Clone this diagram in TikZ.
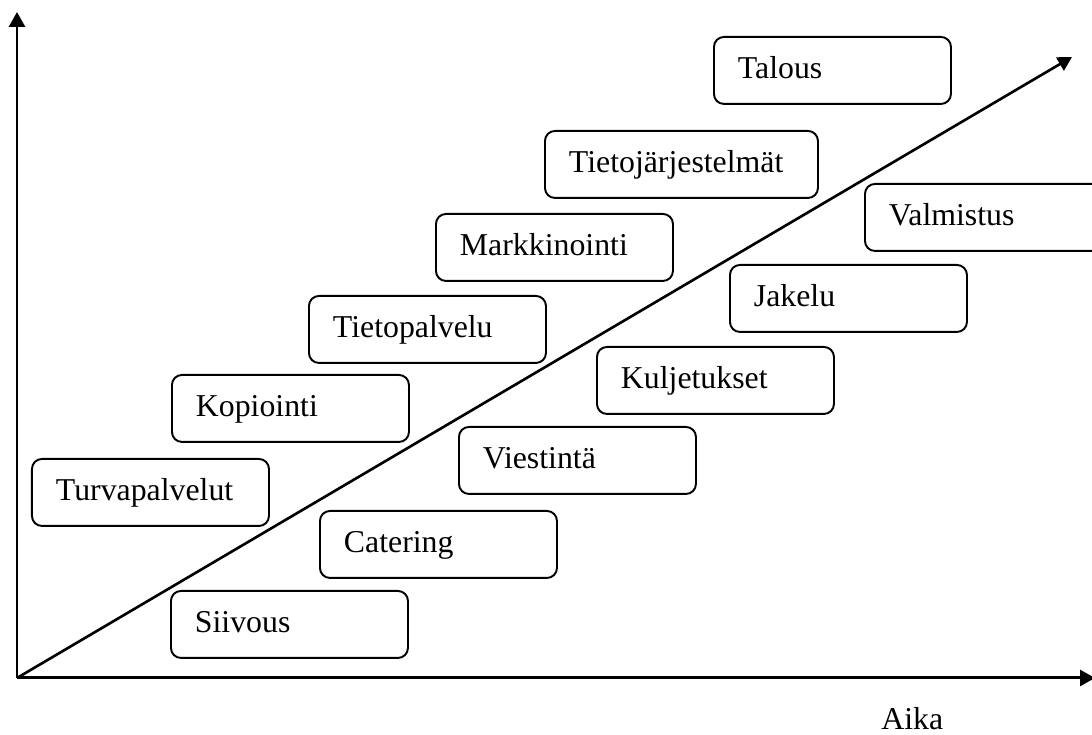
\documentclass[tikz,border=0pt]{standalone}
\usepackage{fontspec}
\setmainfont{Liberation Serif}
\usetikzlibrary{arrows.meta}
\tikzset{
	lohko/.style = {draw, line width = 1.1pt, rounded corners = 0.2cm, anchor = north west,
		minimum height = 1.34cm, inner xsep = 0.48cm, inner ysep = 0pt,
		text width = 3.78cm, align = left, text height = 1em, text depth = 0.08em,
		font = \fontsize{18.1}{21}\selectfont},
	akseli/.style = {line width = 1.7pt, -{Triangle[length = 0.3cm, width = 0.32cm]}}
}
\begin{document}
\begin{tikzpicture}
	\useasboundingbox (0,0) rectangle (21.84,14.7);
	% akselit
	\coordinate (o) at (0.34,1.14);
	\coordinate (ykarki) at (0.34,14.46);
	\coordinate (xkarki) at (21.9,1.14);
	\coordinate (kasvu) at (21.44,13.56);
	\draw [akseli] (o) -- (ykarki);
	\draw [akseli] (o) -- (xkarki);
	\draw [line width = 1.5pt, -{Triangle[length = 0.28cm, width = 0.3cm]}] (o) -- (kasvu);
	% toiminnot
	\node [lohko] (talous) at (14.26,13.98) {Talous};
	\node [lohko, text width = 4.5cm] (tietojarj) at (10.88,12.10) {Tietojärjestelmät};
	\node [lohko] (valmistus) at (17.28,11.04) {Valmistus};
	\node [lohko] (markkinointi) at (8.70,10.44) {Markkinointi};
	\node [lohko] (jakelu) at (14.58,9.42) {Jakelu};
	\node [lohko] (tietopalvelu) at (6.16,8.80) {Tietopalvelu};
	\node [lohko] (kuljetukset) at (11.92,7.78) {Kuljetukset};
	\node [lohko] (kopiointi) at (3.42,7.22) {Kopiointi};
	\node [lohko] (viestinta) at (9.16,6.18) {Viestintä};
	\node [lohko] (turva) at (0.62,5.54) {Turvapalvelut};
	\node [lohko] (catering) at (6.38,4.50) {Catering};
	\node [lohko] (siivous) at (3.40,2.90) {Siivous};
	\node [anchor = base west, inner sep = 0pt, font = \fontsize{18.1}{21}\selectfont] (aika) at (17.62,0.11) {Aika};
\end{tikzpicture}
\end{document}
